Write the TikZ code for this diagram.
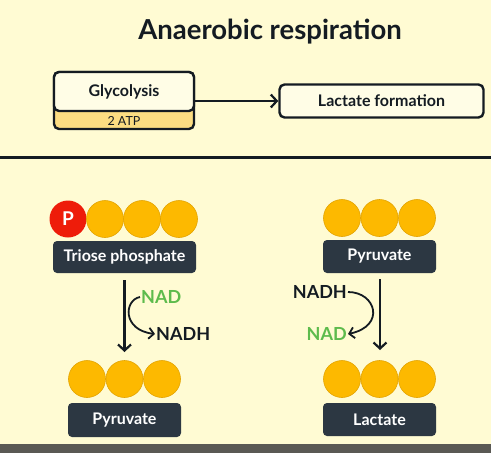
\documentclass[tikz,border=0pt]{standalone}
\usepackage{fontspec}
\setmainfont{Lato}
\usetikzlibrary{arrows.meta}
\definecolor{bg}{HTML}{FFFBD3}
\definecolor{ink}{HTML}{141B22}
\definecolor{boxdark}{HTML}{2C3742}
\definecolor{orng}{HTML}{FDB900}
\definecolor{orngb}{HTML}{E3A300}
\definecolor{pred}{HTML}{EE1C0A}
\definecolor{band}{HTML}{FCDD82}
\definecolor{paper}{HTML}{FFFDE6}
\definecolor{nadg}{HTML}{5DBB4C}
\definecolor{footer}{HTML}{5A5954}
\begin{document}
\begin{tikzpicture}[x=1pt,y=-1pt,
  ball/.style={circle,fill=orng,draw=orngb,line width=0.6pt,minimum size=37pt,inner sep=0pt},
  pball/.style={circle,fill=pred,minimum size=37pt,inner sep=0pt,text=white,font=\bfseries\fontsize{19}{19}\selectfont},
  label/.style={rounded corners=4pt,fill=boxdark,text=white,font=\bfseries\fontsize{16}{16}\selectfont,inner sep=0pt},
  flow/.style={draw=ink,line width=2.2pt,-{Straight Barb[length=6pt,width=13pt,line width=2.2pt]}},
  side/.style={draw=ink,line width=1.8pt,-{Straight Barb[length=5pt,width=11pt,line width=1.8pt]}},
  chem/.style={font=\bfseries\fontsize{18}{18}\selectfont,inner sep=1pt}
]
\useasboundingbox (0,0) rectangle (491,453);
\fill[bg] (0,0) rectangle (491,453);
\fill[footer] (0,443.5) rectangle (491,453);
\draw[ink,line width=3pt] (0,157.5) -- (491,157.5);

\node[font=\bfseries\fontsize{27.5}{27.5}\selectfont,text=ink] (title) at (270,32) {Anaerobic respiration};

% Glycolysis box
\draw[ink,line width=2.4pt,fill=band,rounded corners=5pt] (54,72) rectangle (194,129);
\draw[ink,line width=2.4pt,fill=paper,rounded corners=5pt] (54,72) rectangle (194,111);
\node[font=\fontsize{16}{16}\selectfont\bfseries,text=ink,minimum width=140pt,minimum height=39pt] (gly) at (124,91.5) {Glycolysis};
\node[font=\fontsize{12.5}{12.5}\selectfont,text=ink] (atp) at (124,121) {2 ATP};
\node[draw=ink,line width=2.4pt,rounded corners=5pt,fill=paper,minimum width=204pt,minimum height=33pt,inner sep=0pt,font=\bfseries\fontsize{16}{16}\selectfont,text=ink] (lf) at (381.5,101) {Lactate formation};
\draw[flow] (194,101) -- (lf.west);

% Left column
\node[pball] (p) at (68,219) {P};
\node[ball] (a1) at (105,219) {};
\node[ball] (a2) at (142,219) {};
\node[ball] (a3) at (179,219) {};
\node[label,minimum width=143pt,minimum height=32pt] (tp) at (124.5,257) {Triose phosphate};
\node[ball] (b1) at (87,379) {};
\node[ball] (b2) at (124.5,379) {};
\node[ball] (b3) at (162,379) {};
\node[label,minimum width=113pt,minimum height=34pt] (pyr1) at (124.5,420) {Pyruvate};
\coordinate (l1) at (124.5,280);
\coordinate (l2) at (124.5,352);
\draw[flow] (l1) -- (l2);
\node[chem,text=nadg,anchor=west] (nad1) at (140,297) {NAD};
\node[chem,text=ink,anchor=west] (nadh1) at (155,334) {NADH};
\draw[side] (nad1.west) .. controls (124,300) and (122,330) .. (nadh1.west);

% Right column
\node[ball] (c1) at (342,218) {};
\node[ball] (c2) at (379.5,218) {};
\node[ball] (c3) at (417,218) {};
\node[label,minimum width=113pt,minimum height=33pt] (pyr2) at (379.5,256.5) {Pyruvate};
\node[ball] (d1) at (342,379) {};
\node[ball] (d2) at (379.5,379) {};
\node[ball] (d3) at (417,379) {};
\node[label,minimum width=113pt,minimum height=33pt] (lac) at (379.5,419.5) {Lactate};
\coordinate (r1) at (380,279);
\coordinate (r2) at (380,350);
\draw[flow] (r1) -- (r2);
\node[chem,text=ink,anchor=east] (nadh2) at (348,292) {NADH};
\node[chem,text=nadg,anchor=east] (nad2) at (348,334) {NAD};
\draw[side] (nadh2.east) .. controls (376,292) and (386,326) .. (nad2.east);
\end{tikzpicture}
\end{document}
